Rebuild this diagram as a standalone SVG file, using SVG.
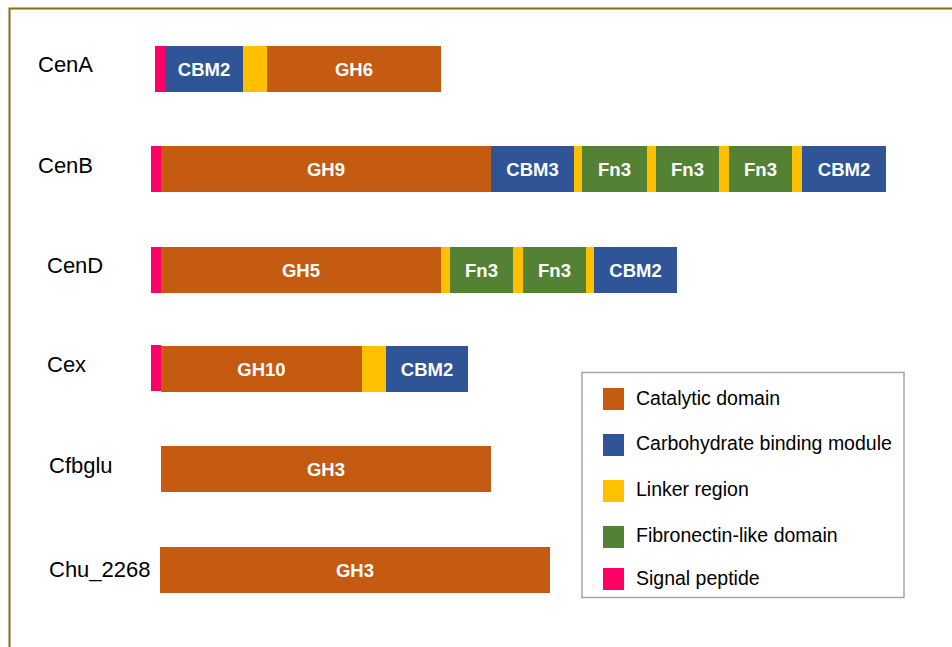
<svg xmlns="http://www.w3.org/2000/svg" width="952" height="647" viewBox="0 0 952 647">
<style>
.lbl{font-family:"Liberation Sans",Arial,sans-serif;font-size:22px;fill:#000}
.dt{font-family:"Liberation Sans",Arial,sans-serif;font-size:18.5px;font-weight:bold;fill:#fff;text-anchor:middle}
.lg{font-family:"Liberation Sans",Arial,sans-serif;font-size:19.5px;fill:#000}
.cat{fill:#C55A11}
.cbm{fill:#2F5597}
.lnk{fill:#FFC000}
.fn{fill:#548235}
.sig{fill:#FF0066}
</style>
<rect x="0" y="0" width="952" height="647" fill="#fff"/>
<rect x="9.5" y="8.5" width="1000" height="700" fill="none" stroke="#8a6a12" stroke-width="2"/>

<g id="CenA">
<text class="lbl" x="38" y="72">CenA</text>
<rect class="sig" x="155" y="46" width="10" height="46"/>
<rect class="cbm" x="165" y="46" width="78" height="46"/>
<rect class="lnk" x="243" y="46" width="24" height="46"/>
<rect class="cat" x="267" y="46" width="174" height="46"/>
<text class="dt" x="204" y="76">CBM2</text>
<text class="dt" x="354" y="76">GH6</text>
</g>

<g id="CenB">
<text class="lbl" x="38" y="173">CenB</text>
<rect class="sig" x="151" y="146" width="10" height="46"/>
<rect class="cat" x="161" y="146" width="330" height="46"/>
<rect class="cbm" x="491" y="146" width="83" height="46"/>
<rect class="lnk" x="574" y="146" width="8" height="46"/>
<rect class="fn" x="582" y="146" width="65" height="46"/>
<rect class="lnk" x="647" y="146" width="9" height="46"/>
<rect class="fn" x="656" y="146" width="63" height="46"/>
<rect class="lnk" x="719" y="146" width="10" height="46"/>
<rect class="fn" x="729" y="146" width="63" height="46"/>
<rect class="lnk" x="792" y="146" width="10" height="46"/>
<rect class="cbm" x="802" y="146" width="84" height="46"/>
<text class="dt" x="326" y="176">GH9</text>
<text class="dt" x="532.5" y="176">CBM3</text>
<text class="dt" x="614.5" y="176">Fn3</text>
<text class="dt" x="687.5" y="176">Fn3</text>
<text class="dt" x="760.5" y="176">Fn3</text>
<text class="dt" x="844" y="176">CBM2</text>
</g>

<g id="CenD">
<text class="lbl" x="47" y="273">CenD</text>
<rect class="sig" x="151" y="247" width="10" height="46"/>
<rect class="cat" x="161" y="247" width="280" height="46"/>
<rect class="lnk" x="441" y="247" width="9" height="46"/>
<rect class="fn" x="450" y="247" width="63" height="46"/>
<rect class="lnk" x="513" y="247" width="10" height="46"/>
<rect class="fn" x="523" y="247" width="63" height="46"/>
<rect class="lnk" x="586" y="247" width="8" height="46"/>
<rect class="cbm" x="594" y="247" width="83" height="46"/>
<text class="dt" x="301" y="277">GH5</text>
<text class="dt" x="481.5" y="277">Fn3</text>
<text class="dt" x="554.5" y="277">Fn3</text>
<text class="dt" x="635.5" y="277">CBM2</text>
</g>

<g id="Cex">
<text class="lbl" x="47" y="372">Cex</text>
<rect class="sig" x="151" y="345" width="10" height="46"/>
<rect class="cat" x="161" y="346" width="201" height="46"/>
<rect class="lnk" x="362" y="346" width="24" height="46"/>
<rect class="cbm" x="386" y="346" width="82" height="46"/>
<text class="dt" x="261.5" y="376">GH10</text>
<text class="dt" x="427" y="376">CBM2</text>
</g>

<g id="Cfbglu">
<text class="lbl" x="49" y="473">Cfbglu</text>
<rect class="cat" x="161" y="446" width="330" height="46"/>
<text class="dt" x="326" y="476">GH3</text>
</g>

<g id="Chu_2268">
<text class="lbl" x="49" y="577">Chu_2268</text>
<rect class="cat" x="160" y="547" width="390" height="46"/>
<text class="dt" x="355" y="577">GH3</text>
</g>

<g id="legend">
<rect x="582" y="372.5" width="322" height="225" fill="#fff" stroke="#a6a6a6" stroke-width="1.5"/>
<rect class="cat" x="603" y="388" width="21" height="22"/>
<rect class="cbm" x="603" y="434" width="21" height="22"/>
<rect class="lnk" x="603" y="480" width="21" height="22"/>
<rect class="fn" x="603" y="526" width="21" height="22"/>
<rect class="sig" x="603" y="568" width="21" height="22"/>
<text class="lg" x="636" y="405">Catalytic domain</text>
<text class="lg" x="636" y="450">Carbohydrate binding module</text>
<text class="lg" x="636" y="496">Linker region</text>
<text class="lg" x="636" y="542">Fibronectin-like domain</text>
<text class="lg" x="636" y="585">Signal peptide</text>
</g>
<g id="connectors"/>
</svg>
